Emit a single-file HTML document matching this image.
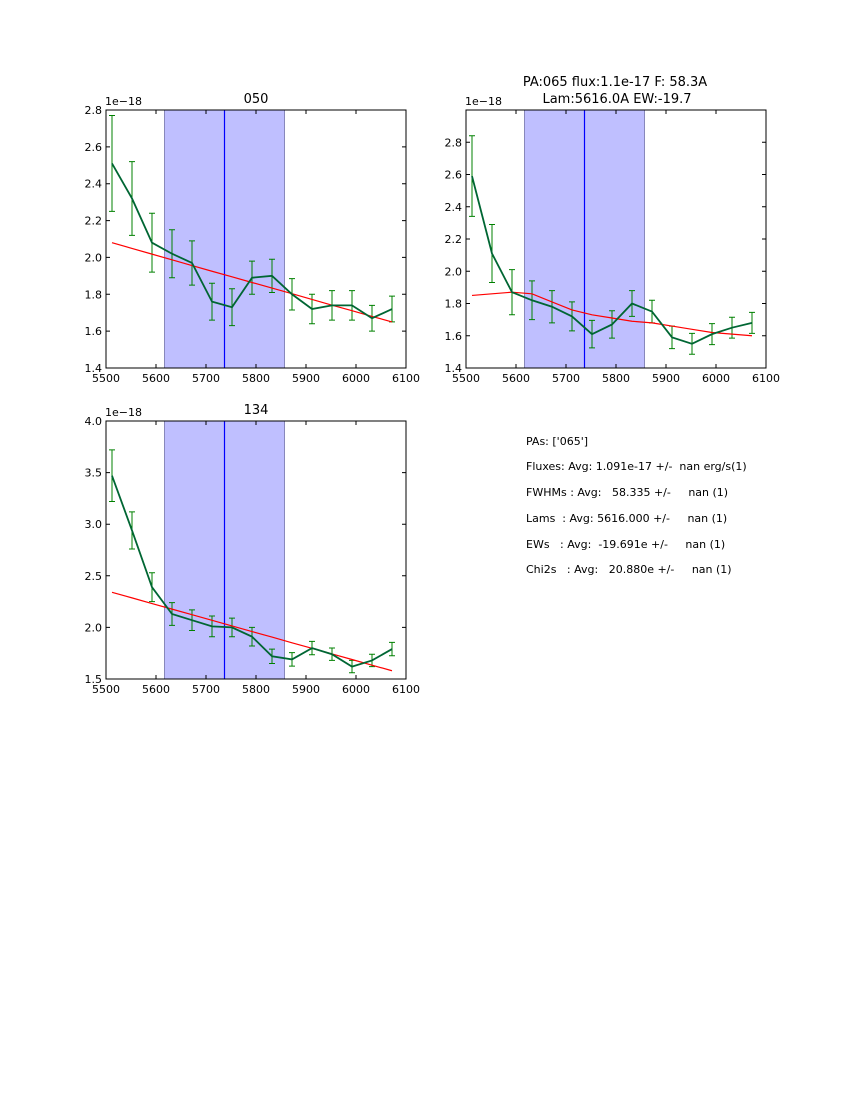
<!DOCTYPE html>
<html><head><meta charset="utf-8"><style>
body{margin:0;background:#fff;width:850px;height:1100px;overflow:hidden}
svg text{font-family:"DejaVu Sans","Liberation Sans",sans-serif}
</style></head><body>
<svg id="fig" width="850" height="1100" xmlns="http://www.w3.org/2000/svg">
<text x="615" y="86" font-size="13" text-anchor="middle">PA:065 flux:1.1e-17 F: 58.3A</text>
<text x="617" y="103" font-size="13" text-anchor="middle">Lam:5616.0A EW:-19.7</text>
<g font-size="11">
<text x="526" y="445" xml:space="preserve">PAs: ['065']</text>
<text x="526" y="470" xml:space="preserve">Fluxes: Avg: 1.091e-17 +/-  nan erg/s(1)</text>
<text x="526" y="496" xml:space="preserve">FWHMs : Avg:   58.335 +/-     nan (1)</text>
<text x="526" y="522" xml:space="preserve">Lams  : Avg: 5616.000 +/-     nan (1)</text>
<text x="526" y="548" xml:space="preserve">EWs   : Avg:  -19.691e +/-     nan (1)</text>
<text x="526" y="573" xml:space="preserve">Chi2s   : Avg:   20.880e +/-     nan (1)</text>
</g>
</svg>
<script>
const waves = [5512,5552,5592,5632,5672,5712,5752,5792,5832,5872,5912,5952,5992,6032,6072];
const xTicks = [5500,5600,5700,5800,5900,6000,6100];
const flux050 = [2.51,2.32,2.08,2.02,1.97,1.76,1.73,1.89,1.90,1.80,1.72,1.74,1.74,1.67,1.72];
const err050 = [0.26,0.2,0.16,0.13,0.12,0.1,0.1,0.09,0.09,0.085,0.08,0.08,0.08,0.07,0.07];
const fit050 = [2.08,2.049,2.018,1.987,1.956,1.925,1.895,1.864,1.834,1.803,1.772,1.741,1.711,1.68,1.65];
const yTicks050 = [1.4,1.6,1.8,2.0,2.2,2.4,2.6,2.8];
const flux065 = [2.59,2.11,1.87,1.82,1.78,1.72,1.61,1.67,1.80,1.75,1.59,1.55,1.61,1.65,1.68];
const err065 = [0.25,0.18,0.14,0.12,0.1,0.09,0.085,0.085,0.08,0.07,0.07,0.065,0.065,0.065,0.065];
const fit065 = [1.85,1.86,1.87,1.86,1.81,1.76,1.73,1.71,1.69,1.68,1.66,1.64,1.62,1.61,1.60];
const yTicks065 = [1.4,1.6,1.8,2.0,2.2,2.4,2.6,2.8];
const flux134 = [3.47,2.94,2.39,2.13,2.07,2.01,2.00,1.91,1.72,1.69,1.80,1.74,1.62,1.68,1.79];
const err134 = [0.25,0.18,0.14,0.11,0.1,0.1,0.09,0.09,0.07,0.065,0.065,0.06,0.06,0.06,0.065];
const fit134 = [2.34,2.286,2.231,2.177,2.123,2.069,2.014,1.96,1.906,1.851,1.797,1.743,1.689,1.634,1.58];
const yTicks134 = [1.5,2.0,2.5,3.0,3.5,4.0];
const spanLo = 5617, spanHi = 5857, lineCenter = 5737;

const NS='http://www.w3.org/2000/svg';
const fig=document.getElementById('fig');
function mk(tag,attrs,parent){const e=document.createElementNS(NS,tag);for(const k in attrs)e.setAttribute(k,attrs[k]);parent.appendChild(e);return e;}

function panel(name,left,top,ymin,ymax,yt,ydec,flux,err,fit,title){
  const W=300,H=258;
  const g=mk('g',{},fig);
  
  
  const sx=v=>left+(v-5500)/600*W;
  const sy=v=>top+H-(v-ymin)/(ymax-ymin)*H;
  const sp=mk('rect',{x:sx(spanLo),y:top,width:sx(spanHi)-sx(spanLo),height:H,fill:'#bfbfff',stroke:'#8888bb','stroke-width':1},g);
  
  
  const cl=mk('line',{x1:sx(lineCenter),x2:sx(lineCenter),y1:top,y2:top+H,stroke:'#0000ff','stroke-width':1.2},g);
  
  
  for(let i=0;i<waves.length;i++){
    const x=sx(waves[i]),y1=sy(flux[i]-err[i]),y2=sy(flux[i]+err[i]);
    const eb=mk('path',{d:`M${x},${y1}V${y2}M${x-3},${y1}H${x+3}M${x-3},${y2}H${x+3}`,stroke:'#008000','stroke-width':1,fill:'none'},g);
    
    
  }
  const fl=mk('polyline',{points:waves.map((w,i)=>sx(w)+','+sy(fit[i])).join(' '),stroke:'#ff0000','stroke-width':1.2,fill:'none'},g);
  
  
  const dl=mk('polyline',{points:waves.map((w,i)=>sx(w)+','+sy(flux[i])).join(' '),stroke:'#006633','stroke-width':1.8,fill:'none'},g);
  
  
  const fr=mk('rect',{x:left,y:top,width:W,height:H,fill:'none',stroke:'#000','stroke-width':1},g);
  
  
  xTicks.forEach(v=>{
    const x=sx(v);
    mk('path',{d:`M${x},${top+H}v-4M${x},${top}v4`,stroke:'#000'},g);
    const t=mk('text',{x:x,y:top+H+14,'font-size':11,'text-anchor':'middle'},g);
    t.textContent=v;
    
    
  });
  yt.forEach(v=>{
    const y=sy(v);
    mk('path',{d:`M${left},${y}h4M${left+W},${y}h-4`,stroke:'#000'},g);
    const t=mk('text',{x:left-4,y:y+4,'font-size':11,'text-anchor':'end'},g);
    t.textContent=v.toFixed(ydec);
    
    
  });
  const o=mk('text',{x:left-1,y:top-5,'font-size':11},g);
  o.textContent='1e\u221218';
  
  
  if(title){
    const t=mk('text',{x:left+W/2,y:top-7,'font-size':13,'text-anchor':'middle'},g);
    t.textContent=title;
    
    
  }
}
panel('050',106,110,1.4,2.8,yTicks050,1,flux050,err050,fit050,'050');
panel('065',466,110,1.4,3.0,yTicks065,1,flux065,err065,fit065,null);
panel('134',106,421,1.5,4.0,yTicks134,1,flux134,err134,fit134,'134');
</script>
</body></html>
